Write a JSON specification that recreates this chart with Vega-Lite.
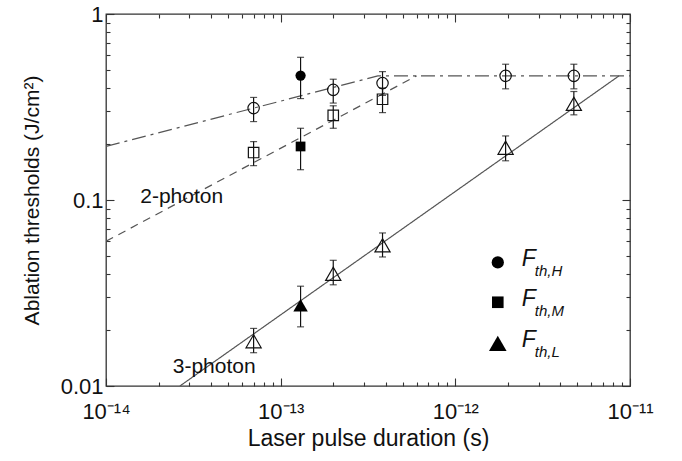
{
  "$schema": "https://vega.github.io/schema/vega-lite/v6.json",
  "width": 524,
  "height": 372,
  "autosize": "none",
  "padding": {"left": 106, "top": 14, "right": 52, "bottom": 75},
  "background": "white",
  "config": {
    "view": {"stroke": "#333", "strokeWidth": 1.3},
    "font": "Liberation Sans",
    "axis": {
      "domain": false,
      "grid": false,
      "tickColor": "#333",
      "tickWidth": 1.1,
      "labelColor": "#111",
      "titleColor": "#111",
      "labelFont": "Liberation Sans",
      "titleFont": "Liberation Sans",
      "labelFontSize": 22,
      "titleFontSize": 21,
      "titleFontWeight": "normal"
    }
  },
  "datasets": {
    "fits": [
      {"fit": "circle fit", "t": 1e-14, "v": 0.194},
      {"fit": "circle fit", "t": 3.6e-13, "v": 0.465},
      {"fit": "circle fit", "t": 1e-11, "v": 0.465},
      {"fit": "square fit", "t": 1e-14, "v": 0.06},
      {"fit": "square fit", "t": 6e-13, "v": 0.465},
      {"fit": "triangle fit", "t": 2.65e-14, "v": 0.01},
      {"fit": "triangle fit", "t": 8.65e-12, "v": 0.465}
    ],
    "obs": [
      {"t": 7.0e-14, "v": 0.312, "lo": 0.264, "hi": 0.356, "marker": "circle", "solid": false},
      {"t": 2.0e-13, "v": 0.391, "lo": 0.332, "hi": 0.446, "marker": "circle", "solid": false},
      {"t": 3.83e-13, "v": 0.425, "lo": 0.365, "hi": 0.49, "marker": "circle", "solid": false},
      {"t": 1.94e-12, "v": 0.465, "lo": 0.396, "hi": 0.537, "marker": "circle", "solid": false},
      {"t": 4.77e-12, "v": 0.465, "lo": 0.396, "hi": 0.537, "marker": "circle", "solid": false},
      {"t": 1.3e-13, "v": 0.467, "lo": 0.351, "hi": 0.585, "marker": "circle", "solid": true},
      {"t": 7.0e-14, "v": 0.18, "lo": 0.153, "hi": 0.206, "marker": "square", "solid": false},
      {"t": 2.0e-13, "v": 0.285, "lo": 0.243, "hi": 0.321, "marker": "square", "solid": false},
      {"t": 3.83e-13, "v": 0.348, "lo": 0.295, "hi": 0.4, "marker": "square", "solid": false},
      {"t": 1.3e-13, "v": 0.194, "lo": 0.1455, "hi": 0.243, "marker": "square", "solid": true},
      {"t": 7.0e-14, "v": 0.0174, "lo": 0.0151, "hi": 0.0204, "marker": "triangle", "solid": false},
      {"t": 2.0e-13, "v": 0.0401, "lo": 0.035, "hi": 0.0474, "marker": "triangle", "solid": false},
      {"t": 3.83e-13, "v": 0.0571, "lo": 0.0494, "hi": 0.0665, "marker": "triangle", "solid": false},
      {"t": 1.94e-12, "v": 0.191, "lo": 0.1625, "hi": 0.221, "marker": "triangle", "solid": false},
      {"t": 4.77e-12, "v": 0.329, "lo": 0.287, "hi": 0.383, "marker": "triangle", "solid": false},
      {"t": 1.3e-13, "v": 0.0272, "lo": 0.0208, "hi": 0.0344, "marker": "triangle", "solid": true}
    ],
    "notes": [
      {"t": 1.57e-14, "v": 0.104, "text": "2-photon"},
      {"t": 2.41e-14, "v": 0.0126, "text": "3-photon"}
    ],
    "key": [
      {"t": 1.75e-12, "v": 0.0462, "marker": "circle", "sub": "th,H"},
      {"t": 1.75e-12, "v": 0.0282, "marker": "square", "sub": "th,M"},
      {"t": 1.75e-12, "v": 0.01694, "marker": "triangle", "sub": "th,L"}
    ]
  },
  "layer": [
    {
      "data": {"name": "fits"},
      "mark": {"type": "line", "color": "#555", "strokeWidth": 1.2, "clip": true},
      "encoding": {
        "x": {
          "field": "t", "type": "quantitative",
          "scale": {"type": "log", "domain": [1e-14, 1e-11], "nice": false},
          "axis": {
            "orient": "bottom",
            "values": [1e-14, 2e-14, 3e-14, 4e-14, 5e-14, 6e-14, 7e-14, 8e-14, 9e-14, 1e-13, 2e-13, 3e-13, 4e-13, 5e-13, 6e-13, 7e-13, 8e-13, 9e-13, 1e-12, 2e-12, 3e-12, 4e-12, 5e-12, 6e-12, 7e-12, 8e-12, 9e-12, 1e-11],
            "tickSize": {"condition": {"test": "abs(log(datum.value)/LN10 - round(log(datum.value)/LN10)) < 0.001", "value": -8}, "value": -4},
            "labelExpr": "abs(log(datum.value)/LN10 - round(log(datum.value)/LN10)) > 0.001 ? '' : round(log(datum.value)/LN10) == -14 ? '10⁻¹⁴' : round(log(datum.value)/LN10) == -13 ? '10⁻¹³' : round(log(datum.value)/LN10) == -12 ? '10⁻¹²' : '10⁻¹¹'",
            "labelPadding": 23,
            "labelFlush": false,
            "labelOverlap": false,
            "title": "Laser pulse duration (s)",
            "titleFontSize": 23,
            "titleY": 59,
            "titleBaseline": "alphabetic"
          }
        },
        "y": {
          "field": "v", "type": "quantitative",
          "scale": {"type": "log", "domain": [0.01, 1], "nice": false},
          "axis": {
            "orient": "left",
            "values": [0.01, 0.02, 0.03, 0.04, 0.05, 0.06, 0.07, 0.08, 0.09, 0.1, 0.2, 0.3, 0.4, 0.5, 0.6, 0.7, 0.8, 0.9, 1],
            "tickSize": {"condition": {"test": "abs(log(datum.value)/LN10 - round(log(datum.value)/LN10)) < 0.001", "value": -8}, "value": -4},
            "labelExpr": "abs(log(datum.value)/LN10 - round(log(datum.value)/LN10)) > 0.001 ? '' : datum.value < 0.015 ? '0.01' : datum.value < 0.15 ? '0.1' : '1'",
            "labelPadding": 11,
            "labelFlush": false,
            "labelOverlap": false,
            "title": "Ablation thresholds (J/cm²)",
            "titleX": -74,
            "titleY": 186,
            "titleAngle": -90,
            "titleAlign": "center",
            "titleBaseline": "middle"
          }
        },
        "strokeDash": {
          "field": "fit", "type": "nominal",
          "scale": {"domain": ["circle fit", "square fit", "triangle fit"], "range": [[14, 5, 3, 5], [8, 6], [1, 0]]},
          "legend": null
        },
        "order": {"field": "t"}
      }
    },
    {
      "data": {"name": "obs"},
      "mark": {"type": "errorbar", "ticks": {"size": 7}, "color": "#111", "thickness": 1.2},
      "encoding": {
        "x": {"field": "t", "type": "quantitative", "axis": null},
        "y": {"field": "lo", "type": "quantitative", "axis": null},
        "y2": {"field": "hi"}
      }
    },
    {
      "data": {"name": "obs"},
      "transform": [{"filter": "!datum.solid"}],
      "mark": {"type": "point", "filled": false, "color": "#111", "strokeWidth": 1.2, "opacity": 1},
      "encoding": {
        "x": {
          "field": "t", "type": "quantitative",
          "axis": {
            "orient": "top",
            "values": [1e-14, 2e-14, 3e-14, 4e-14, 5e-14, 6e-14, 7e-14, 8e-14, 9e-14, 1e-13, 2e-13, 3e-13, 4e-13, 5e-13, 6e-13, 7e-13, 8e-13, 9e-13, 1e-12, 2e-12, 3e-12, 4e-12, 5e-12, 6e-12, 7e-12, 8e-12, 9e-12, 1e-11],
            "tickSize": {"condition": {"test": "abs(log(datum.value)/LN10 - round(log(datum.value)/LN10)) < 0.001", "value": -8}, "value": -4},
            "labels": false,
            "title": null
          }
        },
        "y": {
          "field": "v", "type": "quantitative",
          "axis": {
            "orient": "right",
            "values": [0.01, 0.02, 0.03, 0.04, 0.05, 0.06, 0.07, 0.08, 0.09, 0.1, 0.2, 0.3, 0.4, 0.5, 0.6, 0.7, 0.8, 0.9, 1],
            "tickSize": {"condition": {"test": "abs(log(datum.value)/LN10 - round(log(datum.value)/LN10)) < 0.001", "value": -8}, "value": -4},
            "labels": false,
            "title": null
          }
        },
        "shape": {
          "field": "marker", "type": "nominal",
          "scale": {"domain": ["circle", "square", "triangle"], "range": ["circle", "square", "triangle-up"]},
          "legend": null
        },
        "size": {
          "condition": [
            {"test": "datum.marker == 'triangle'", "value": 230},
            {"test": "datum.marker == 'square'", "value": 110}
          ],
          "value": 130
        }
      }
    },
    {
      "data": {"name": "obs"},
      "transform": [{"filter": "datum.solid"}],
      "mark": {"type": "point", "filled": true, "color": "#000", "opacity": 1},
      "encoding": {
        "x": {"field": "t", "type": "quantitative", "axis": null},
        "y": {"field": "v", "type": "quantitative", "axis": null},
        "shape": {"field": "marker", "type": "nominal", "legend": null},
        "size": {
          "condition": [
            {"test": "datum.marker == 'triangle'", "value": 210},
            {"test": "datum.marker == 'square'", "value": 95}
          ],
          "value": 105
        }
      }
    },
    {
      "data": {"name": "notes"},
      "mark": {"type": "text", "align": "left", "baseline": "middle", "fontSize": 21, "color": "#111", "font": "Liberation Sans"},
      "encoding": {
        "x": {"field": "t", "type": "quantitative", "axis": null},
        "y": {"field": "v", "type": "quantitative", "axis": null},
        "text": {"field": "text"}
      }
    },
    {
      "data": {"name": "key"},
      "mark": {"type": "point", "filled": true, "color": "#000", "opacity": 1},
      "encoding": {
        "x": {"field": "t", "type": "quantitative", "axis": null},
        "y": {"field": "v", "type": "quantitative", "axis": null},
        "shape": {"field": "marker", "type": "nominal", "legend": null},
        "size": {
          "condition": [
            {"test": "datum.marker == 'triangle'", "value": 310},
            {"test": "datum.marker == 'square'", "value": 135}
          ],
          "value": 150
        }
      }
    },
    {
      "data": {"name": "key"},
      "mark": {"type": "text", "align": "left", "baseline": "middle", "dx": 24, "dy": -3, "fontSize": 23, "fontStyle": "italic", "color": "#111", "font": "Liberation Sans"},
      "encoding": {
        "x": {"field": "t", "type": "quantitative", "axis": null},
        "y": {"field": "v", "type": "quantitative", "axis": null},
        "text": {"value": "F"}
      }
    },
    {
      "data": {"name": "key"},
      "mark": {"type": "text", "align": "left", "baseline": "middle", "dx": 37, "dy": 9, "fontSize": 15, "fontStyle": "italic", "color": "#111", "font": "Liberation Sans"},
      "encoding": {
        "x": {"field": "t", "type": "quantitative", "axis": null},
        "y": {"field": "v", "type": "quantitative", "axis": null},
        "text": {"field": "sub"}
      }
    }
  ],
  "resolve": {
    "axis": {"x": "independent", "y": "independent"}
  }
}
